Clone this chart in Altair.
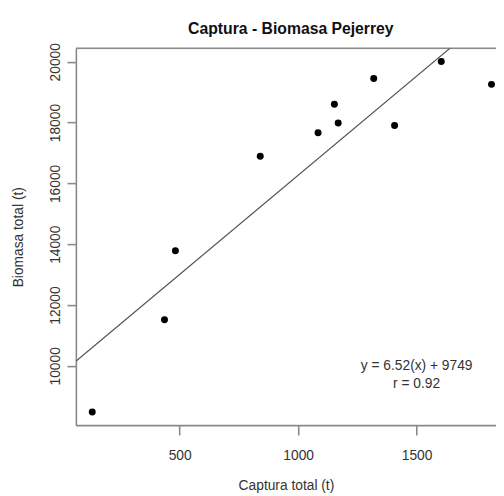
import altair as alt
import pandas as pd

# Data
captura = [131, 436, 482, 840, 1084, 1153, 1169, 1319, 1407, 1604, 1816]
biomasa = [8484, 11516, 13784, 16894, 17668, 18603, 17990, 19452, 17903, 20010, 19258]
slope = 6.52
intercept = 9749
x_domain = [62, 1835]
y_domain = [8050, 20443]
x_ticks = [500, 1000, 1500]
y_ticks = [10000, 12000, 14000, 16000, 18000, 20000]
eq_text = ["y = 6.52(x) + 9749", "r = 0.92"]
eq_x = [1500, 1500]
eq_y = [10000, 9390]

pts = pd.DataFrame({"x": captura, "y": biomasa})
line_df = pd.DataFrame({"x": x_domain, "y": [slope * v + intercept for v in x_domain]})
txt_df = pd.DataFrame({"x": eq_x, "y": eq_y, "t": eq_text})
top_df = pd.DataFrame({"y": [y_domain[1]]})

FONT = "Liberation Sans"
AXC = "#8a8a8a"
TXT = "#333333"

xs = alt.Scale(domain=x_domain, nice=False, zero=False)
ys = alt.Scale(domain=y_domain, nice=False, zero=False)

x_axis = alt.Axis(values=x_ticks, title="Captura total (t)", grid=False, format="d",
                  domainColor=AXC, domainWidth=1.6, tickColor=AXC, tickWidth=1.6,
                  tickSize=10, labelPadding=14, labelFontSize=14, labelColor=TXT,
                  labelFont=FONT, titleFont=FONT, titleFontSize=14,
                  titleFontWeight="normal", titleColor=TXT, titlePadding=16,
                  labelFlush=False)
y_axis = alt.Axis(values=y_ticks, title="Biomasa total (t)", grid=False, format="d",
                  domainColor=AXC, domainWidth=1.6, tickColor=AXC, tickWidth=1.6,
                  tickSize=9, labelAngle=270, labelAlign="center",
                  labelBaseline="bottom", labelPadding=5, labelFontSize=14,
                  labelColor=TXT, labelFont=FONT, titleFont=FONT,
                  titleFontSize=14, titleFontWeight="normal", titleColor=TXT,
                  titlePadding=23, labelFlush=False)

points = alt.Chart(pts).mark_circle(size=50, color="black", opacity=1).encode(
    x=alt.X("x:Q", scale=xs, axis=x_axis),
    y=alt.Y("y:Q", scale=ys, axis=y_axis),
)

topframe = alt.Chart(top_df).mark_rule(color=AXC, strokeWidth=1.6).encode(
    y=alt.Y("y:Q", scale=ys),
)

reg = alt.Chart(line_df).mark_line(color="#555555", strokeWidth=1.2, clip=True).encode(
    x=alt.X("x:Q", scale=xs),
    y=alt.Y("y:Q", scale=ys),
)

txt = alt.Chart(txt_df).mark_text(font=FONT, fontSize=14, color=TXT).encode(
    x=alt.X("x:Q", scale=xs),
    y=alt.Y("y:Q", scale=ys),
    text="t:N",
)

chart = alt.layer(points, topframe, reg, txt).properties(
    width=427,
    height=383,
    autosize=alt.AutoSizeParams(type="none"),
    padding={"left": 69, "top": 37, "right": 0, "bottom": 67},
    title=alt.TitleParams("Captura - Biomasa Pejerrey", font=FONT, fontSize=16,
                          fontWeight="bold", color="#111111", anchor="middle",
                          offset=6, dx=5),
).configure_view(stroke=None).configure(background="white")

chart.save("out.html", embed_options={"renderer": "svg", "actions": False})
